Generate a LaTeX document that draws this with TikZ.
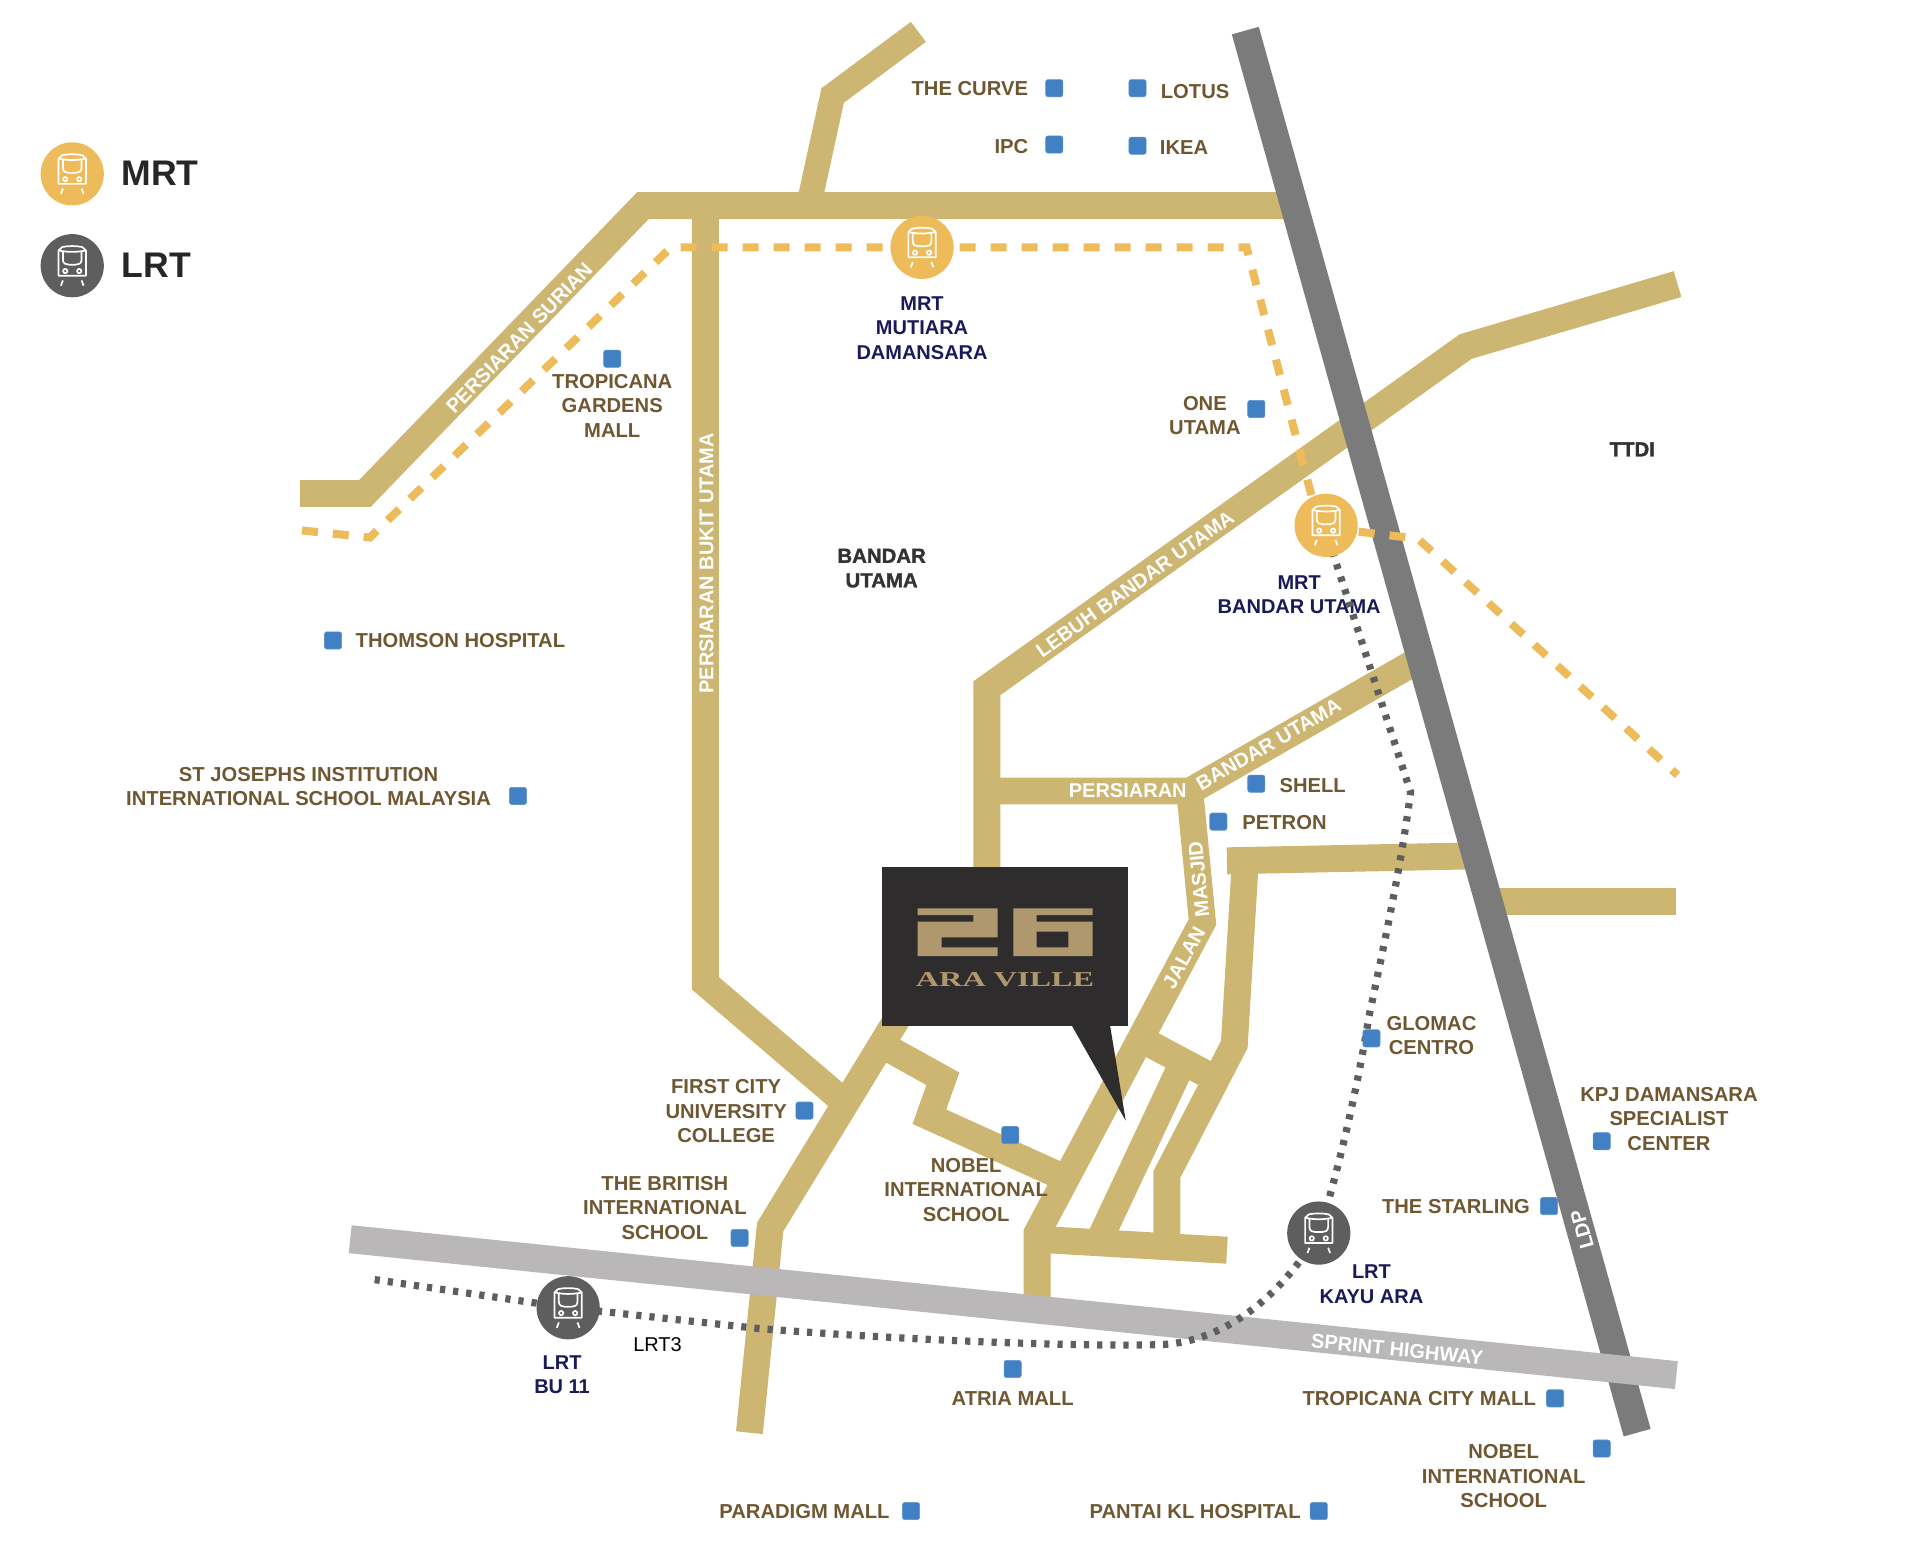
\documentclass[tikz,border=0pt]{standalone}
\usepackage{fontspec}
\setmainfont{Liberation Sans}
\newfontfamily\logofont{Liberation Serif}
\newfontfamily\areafont[BoldFeatures={FakeBold=1.5}]{Liberation Sans}
\definecolor{roadc}{HTML}{CDB672}
\definecolor{ldpc}{HTML}{7B7B7B}
\definecolor{sprintc}{HTML}{B9B7B8}
\definecolor{mrtc}{HTML}{EDBB5A}
\definecolor{lrtc}{HTML}{5E5E5E}
\definecolor{brownc}{HTML}{6F5732}
\definecolor{navyc}{HTML}{1A1A58}
\definecolor{bluec}{HTML}{4280C4}
\definecolor{boxc}{HTML}{2E2C2D}
\definecolor{logoc}{HTML}{B0986E}
\tikzset{
  road/.style={draw=roadc,line width=13.47pt,miter limit=10,line join=miter},
  hwy/.style={line width=14pt},
  mrtline/.style={draw=mrtc,line width=4pt,dash pattern=on 8pt off 7.5pt,dash phase=14.5pt},
  lrtline/.style={draw=lrtc,line width=3.6pt,dash pattern=on 2.6pt off 4pt},
  lbl/.style={font=\bfseries\fontsize{10.1}{12.25}\selectfont,text=brownc,align=center,inner sep=0pt,yshift=-.3pt},
  stn/.style={font=\bfseries\fontsize{10}{12.25}\selectfont,text=navyc,align=center,inner sep=0pt,yshift=-.4pt},
  area/.style={font=\areafont\bfseries\fontsize{10.2}{12.25}\selectfont,text=black!80,align=center,inner sep=0pt},
  rlbl/.style={font=\bfseries\fontsize{10}{12}\selectfont,text=white,inner sep=0pt},
  poi/.style={fill=bluec,draw=bluec!85!white,line width=.3pt,rounded corners=1.2pt,minimum size=8.6pt,inner sep=0pt},
  mrtst/.style={circle,fill=mrtc,minimum size=31.6pt,inner sep=0pt},
  lrtst/.style={circle,fill=lrtc,minimum size=31.6pt,inner sep=0pt},
  legend/.style={font=\bfseries\fontsize{17.8}{20}\selectfont,text=black!85,inner sep=0pt,anchor=west},
}
\newcommand{\trainicon}[1]{%
  \begin{scope}[shift={(#1)},x=.16667pt,y=-.16667pt,draw=white,line width=.85pt,line join=round]
    \draw (-30,-56) .. controls (-12,-60) and (12,-60) .. (30,-56) -- (41,-46) -- (41,30) -- (-41,30) -- (-41,-46) -- cycle;
    \draw (-41,-46) .. controls (-15,-40) and (15,-40) .. (41,-46);
    \draw (-28,-42) -- (-28,-18) .. controls (-28,-6) and (-18,-3) .. (-10,-3) -- (10,-3) .. controls (18,-3) and (28,-6) .. (28,-18) -- (28,-42);
    \draw (-21,16) circle (6.5); \draw (21,16) circle (6.5);
    \draw (-28,44) -- (-34,60); \draw (28,44) -- (34,60);
  \end{scope}}
\begin{document}
\begin{tikzpicture}[x=0.61224pt,y=-0.61224pt]
\useasboundingbox (0,0) rectangle (1568,1275.67);
% roads
\draw[road] (245,403) -- (298,403) -- (525,168) -- (1060,168);
\draw[road,line width=12.5pt] (661,165) -- (680,78) -- (750,26);
\draw[road] (576,170) -- (576,803) -- (686,897);
\draw[road] (737,825) -- (629,1002) -- (612,1170);
\draw[road] (806,715) -- (806,562) -- (1197,283) -- (1370,232);
\draw[road] (806,646) -- (972,646) -- (1155,541);
\draw[road] (971,640) -- (982,753) -- (847,1007) -- (847,1070);
\draw[road] (847,1012) -- (1002,1021);
\draw[road] (900,1008) -- (962,876);
\draw[road] (925,845) -- (1000,885);
\draw[road] (1002,703) -- (1200,699);
\draw[road] (1017,703) -- (1008,853) -- (953,959) -- (953,1018);
\draw[road] (1220,736) -- (1369,736);
\draw[road] (716,851) -- (770,881) -- (759,912) -- (874,964);
% highways
\draw[draw=ldpc,hwy] (1017,25) -- (1337,1170);
\draw[draw=sprintc,hwy] (286,1012) -- (1369,1123);
% road labels
\node[rlbl,rotate=46] (rl1) at (424,276) {PERSIARAN SURIAN};
\node[rlbl,rotate=90] (rl2) at (577,460) {PERSIARAN BUKIT UTAMA};
\node[rlbl,rotate=35.5] (rl3) at (927,477) {LEBUH BANDAR UTAMA};
\node[rlbl] (rl4) at (921,646) {PERSIARAN};
\node[rlbl,rotate=30] (rl5) at (1036,608) {BANDAR UTAMA};
\node[rlbl,rotate=95.5] (rl6) at (979,718) {MASJID};
\node[rlbl,rotate=61] (rl7) at (967,782) {JALAN};
\node[rlbl,rotate=-5.8] (rl8) at (1141,1102) {SPRINT HIGHWAY};
\node[rlbl,rotate=105.6] (rl9) at (1292,1004) {LDP};
% texts
\node[lbl] (t1) at (792,72) {THE CURVE};
\node[lbl] (t2) at (976,74) {LOTUS};
\node[lbl] (t3) at (826,119) {IPC};
\node[lbl] (t4) at (967,120) {IKEA};
\node[lbl] (t5) at (500,331) {TROPICANA\\GARDENS\\MALL};
\node[lbl] (t6) at (984,339) {ONE\\UTAMA};
\node[lbl] (t7) at (376,523) {THOMSON HOSPITAL};
\node[lbl] (t8) at (252,642) {ST JOSEPHS INSTITUTION\\INTERNATIONAL SCHOOL MALAYSIA};
\node[lbl] (t9) at (1072,641) {SHELL};
\node[lbl] (t10) at (1049,671) {PETRON};
\node[lbl] (t11) at (593,907) {FIRST CITY\\UNIVERSITY\\COLLEGE};
\node[lbl] (t12) at (543,986) {THE BRITISH\\INTERNATIONAL\\SCHOOL};
\node[lbl] (t13) at (789,971) {NOBEL\\INTERNATIONAL\\SCHOOL};
\node[lbl] (t14) at (827,1142) {ATRIA MALL};
\node[lbl] (t15) at (1169,845) {GLOMAC\\CENTRO};
\node[lbl] (t16) at (1363,913) {KPJ DAMANSARA\\SPECIALIST\\CENTER};
\node[lbl] (t17) at (1189,985) {THE STARLING};
\node[lbl] (t18) at (1159,1142) {TROPICANA CITY MALL};
\node[lbl] (t19) at (1228,1205) {NOBEL\\INTERNATIONAL\\SCHOOL};
\node[lbl] (t20) at (657,1234) {PARADIGM MALL};
\node[lbl] (t21) at (976,1234) {PANTAI KL HOSPITAL};
\node[area] (a1) at (720,464) {BANDAR\\UTAMA};
\node[area] (a2) at (1333,367) {TTDI};
\node[stn] (s1) at (753,267) {MRT\\MUTIARA\\DAMANSARA};
\node[stn] (s2) at (1061,485) {MRT\\BANDAR UTAMA};
\node[stn] (s3) at (1120,1048) {LRT\\KAYU ARA};
\node[stn] (s4) at (459,1122) {LRT\\BU 11};
\node[font=\fontsize{10}{12}\selectfont,text=black,inner sep=0pt] (l3) at (537,1098) {LRT3};
% rail lines
\draw[mrtline] (245,433) -- (302,439) -- (548,202) -- (1018,202) -- (1075,420) (1108,434) -- (1158,440) -- (1370,633);
\draw[lrtline] (306,1045) -- (464,1068) -- (620,1085) .. controls (760,1096) and (900,1100) .. (950,1098) .. controls (1000,1095) and (1045,1060) .. (1077,1007) .. controls (1095,950) and (1110,880) .. (1118,830) .. controls (1135,750) and (1145,700) .. (1152,647) -- (1088,450);
% points of interest
\foreach \n/\px/\py in {p1/861/72,p2/929/72,p3/861/118,p4/929/119,p5/500/293,p6/1026/334,p7/272/523,p8/423/650,p9/1026/640,p10/995/671,p11/657/907,p12/604/1011,p13/825/927,p14/827/1118,p15/1120/848,p16/1308/932,p17/1265/985,p18/1270/1142,p19/1308/1183,p20/744/1234,p21/1077/1234}
  \node[poi] (\n) at (\px,\py) {};
% stations
\node[mrtst] (m1) at (753,202) {}; \trainicon{m1}
\node[mrtst] (m2) at (1083,429) {}; \trainicon{m2}
\node[lrtst] (l1) at (1077,1007) {}; \trainicon{l1}
\node[lrtst] (l2) at (464,1068) {}; \trainicon{l2}
% legend
\node[mrtst] (lg1) at (59,142) {}; \trainicon{lg1}
\node[lrtst] (lg2) at (59,217) {}; \trainicon{lg2}
\node[legend] (lg1t) at (99,141.5) {MRT};
\node[legend] (lg2t) at (99,216.5) {LRT};
% project marker
\begin{scope}[shift={(694.2,694.2)},x=.16667pt,y=-.16667pt]
  \fill[boxc] (95,52) rectangle (835,527);
  \fill[boxc] (665,526) -- (780,526) -- (827,812) -- cycle;
  \fill[logoc] (203,175) -- (443,175) -- (443,262) -- (275,262) -- (275,292) -- (443,292) -- (443,318) -- (203,318) -- (203,215) -- (370,215) -- (370,195) -- (203,195) -- cycle;
  \fill[logoc,even odd rule] (490,175) -- (728,175) -- (728,195) -- (560,195) -- (560,215) -- (728,215) -- (728,318) -- (490,318) -- cycle (560,245) rectangle (655,292);
  \node[inner sep=0pt,text=logoc,font=\logofont\bfseries\fontsize{10.6}{12}\selectfont] (logo) at (465,390) {\scalebox{1.52}[1]{ARA VILLE}};
\end{scope}
\end{tikzpicture}
\end{document}
